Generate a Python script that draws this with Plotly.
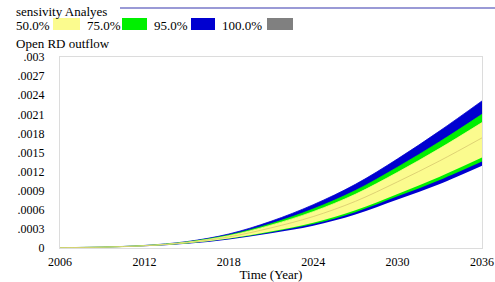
import plotly.graph_objects as go

years = [2006, 2009, 2012, 2015, 2018, 2021, 2024, 2027, 2030, 2033, 2036]
# values in units of 0.001
blue_lo   = [0.005, 0.011, 0.028, 0.066, 0.134, 0.232, 0.350, 0.525, 0.760, 1.005, 1.290]
green_lo  = [0.005, 0.012, 0.0305, 0.0715, 0.144, 0.249, 0.376, 0.563, 0.811, 1.070, 1.360]
yellow_lo = [0.005, 0.0123, 0.031, 0.073, 0.149, 0.260, 0.395, 0.591, 0.848, 1.120, 1.420]
median    = [0.005, 0.013, 0.034, 0.083, 0.174, 0.316, 0.494, 0.733, 1.040, 1.370, 1.730]
yellow_hi = [0.005, 0.014, 0.037, 0.090, 0.193, 0.359, 0.571, 0.844, 1.189, 1.565, 1.970]
green_hi  = [0.005, 0.0144, 0.038, 0.094, 0.203, 0.382, 0.613, 0.903, 1.270, 1.670, 2.100]
blue_hi   = [0.005, 0.015, 0.040, 0.100, 0.220, 0.420, 0.680, 1.000, 1.400, 1.840, 2.310]

y_ticks = [0, 0.0003, 0.0006, 0.0009, 0.0012, 0.0015, 0.0018, 0.0021, 0.0024, 0.0027, 0.003]
y_text = ["0", ".0003", ".0006", ".0009", ".0012", ".0015", ".0018", ".0021", ".0024", ".0027", ".003"]
x_ticks = [2006, 2012, 2018, 2024, 2030, 2036]

legend_labels = ["50.0%", "75.0%", "95.0%", "100.0%"]
legend_colors = ["#fbfb8e", "#00f000", "#0000d0", "#808080"]

def s(v):
    return [a / 1000 for a in v]

W, H = 495, 282
ML, MR, MT, MB = 60, 13, 57, 34
pw, ph = W - ML - MR, H - MT - MB

def px(x):
    return (x - ML) / pw

def py(y):
    return (H - MB - y) / ph

fig = go.Figure()

def band(lo, hi, color):
    fig.add_trace(go.Scatter(x=years, y=s(lo), mode="lines", line=dict(width=0, color=color, shape="spline"),
                             showlegend=False, hoverinfo="skip"))
    fig.add_trace(go.Scatter(x=years, y=s(hi), mode="lines", line=dict(width=0.8, color=color, shape="spline"),
                             fill="tonexty", fillcolor=color, showlegend=False, hoverinfo="skip"))

band(blue_lo, blue_hi, legend_colors[2])
band(green_lo, green_hi, legend_colors[1])
band(yellow_lo, yellow_hi, legend_colors[0])
fig.add_trace(go.Scatter(x=years, y=s(median), mode="lines",
                         line=dict(width=1, color="rgba(215,200,110,0.8)", shape="spline"),
                         showlegend=False, hoverinfo="skip"))

FAM = "Liberation Serif"
font = dict(family=FAM, size=13, color="black")
tfont = dict(family=FAM, size=12, color="black")

fig.update_layout(
    width=W, height=H,
    margin=dict(l=ML, r=MR, t=MT, b=MB, autoexpand=False),
    paper_bgcolor="white", plot_bgcolor="white",
    font=font,
    xaxis=dict(range=[2006, 2036], tickvals=x_ticks, showgrid=False, zeroline=False,
               showline=True, mirror=True, linecolor="#dcdcdc", linewidth=1,
               ticks="", ticklabelstandoff=3, automargin=False, tickfont=tfont,
               ticklabeloverflow="allow",
               title=dict(text="Time (Year)", font=font, standoff=0)),
    yaxis=dict(range=[0, 0.003], tickvals=y_ticks, ticktext=y_text, showgrid=False, zeroline=False,
               showline=True, mirror=True, linecolor="#dcdcdc", linewidth=1,
               ticks="", ticklabelstandoff=12, automargin=False, tickfont=tfont,
               ticklabeloverflow="allow"),
)

# header line
fig.add_shape(type="line", xref="paper", yref="paper", x0=px(120), x1=px(495), y0=py(8), y1=py(8),
              line=dict(color="#9a9ad6", width=2))

fig.add_annotation(xref="paper", yref="paper", x=px(14), y=py(11), text="sensivity Analyes",
                   showarrow=False, xanchor="left", yanchor="middle", font=font)
fig.add_annotation(xref="paper", yref="paper", x=px(14), y=py(43), text="Open RD outflow",
                   showarrow=False, xanchor="left", yanchor="middle", font=font)

text_x = [14, 85, 152, 220]
sw_x = [(53, 80), (122, 147), (191, 215), (267, 293)]
for lab, col, tx, (a, b) in zip(legend_labels, legend_colors, text_x, sw_x):
    fig.add_annotation(xref="paper", yref="paper", x=px(tx), y=py(25), text=lab,
                       showarrow=False, xanchor="left", yanchor="middle", font=font)
    fig.add_shape(type="rect", xref="paper", yref="paper", x0=px(a), x1=px(b), y0=py(30), y1=py(18),
                  fillcolor=col, line=dict(width=0))

fig.write_html("out.html", config={"displayModeBar": False},
               post_script="document.body.style.margin='0';document.body.style.padding='0';")
